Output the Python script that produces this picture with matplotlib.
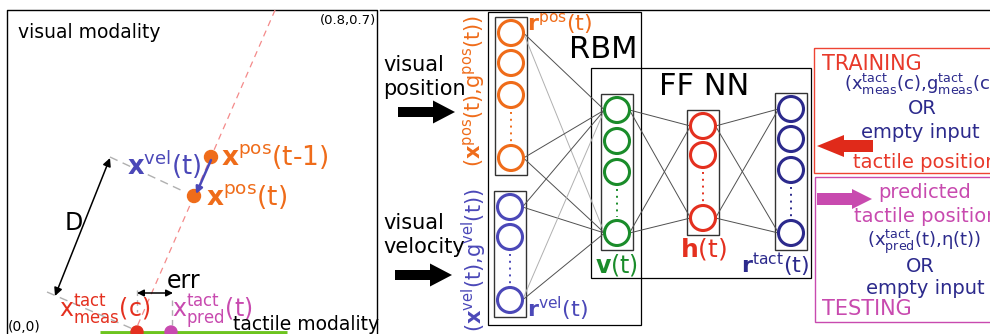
import matplotlib.pyplot as plt
from matplotlib.patches import Circle, Rectangle, FancyArrow

plt.rcParams['font.family'] = 'DejaVu Sans'
plt.rcParams['mathtext.fontset'] = 'dejavusans'
plt.rcParams['mathtext.default'] = 'regular'

ORANGE = '#ef6c1a'
VEL = '#4b48b8'
NAVY = '#2c2a8c'
GREEN = '#1a8c2a'
RED = '#e4301f'
MAGENTA = '#c84aaf'
LIME = '#6dc41f'

# drawn units of each layer (vertical centres), the rest is elided with dots
pos_units = [33, 63, 95, 158]
vel_units = [207, 237, 300]
vis_units = [110, 141, 172, 233]
hid_units = [126, 155, 218]
tact_units = [109, 139, 170, 233]

# object trajectory in the visual field
obj_prev = (211, 157)
obj_now = (194, 196)
touch_meas = (137, 332)
touch_pred = (171, 332)

fig = plt.figure(figsize=(9.9, 3.34), dpi=100)
ax = fig.add_axes([0, 0, 1, 1])
ax.set_xlim(0, 990)
ax.set_ylim(334, 0)
ax.axis('off')

# ---------------- left: visual / tactile space ----------------
ax.plot([7, 7, 377, 377], [340, 10, 10, 340], color='black', lw=1)
ax.text(18, 38, 'visual modality', fontsize=13.5, va='baseline')
ax.text(376, 24, '(0.8,0.7)', fontsize=9.5, ha='right', va='baseline')
ax.text(8, 331, '(0,0)', fontsize=10, va='baseline')

# trajectory line through the two positions down to the skin
sl = (obj_prev[0] - obj_now[0]) / (obj_prev[1] - obj_now[1])
ax.plot([obj_now[0] + sl * (10 - obj_now[1]), obj_now[0] + sl * (334 - obj_now[1])],
        [10, 334], ls=(0, (5, 4)), color='#f48a8a', lw=0.9)

ax.plot([110, 185], [157, 192], ls=(0, (6, 4)), color='#b0b0b0', lw=1)
ax.plot([47, 140], [292, 332], ls=(0, (6, 4)), color='#b0b0b0', lw=1)
ax.plot([137, 137], [290, 312], ls=(0, (4, 3)), color='#b0b0b0', lw=1)
ax.plot([172, 172], [300, 325], ls=(0, (4, 3)), color='#b0b0b0', lw=1)

ax.annotate('', xy=(55, 296), xytext=(110, 158),
            arrowprops=dict(arrowstyle='<|-|>', color='black', lw=1.1,
                            mutation_scale=12, shrinkA=0, shrinkB=0))
ax.annotate('', xy=(137, 293), xytext=(173, 293),
            arrowprops=dict(arrowstyle='<|-|>', color='black', lw=1.1,
                            mutation_scale=10, shrinkA=0, shrinkB=0))
ax.text(65, 230, 'D', fontsize=17, va='baseline')
ax.text(167, 288, 'err', fontsize=17, va='baseline')

ax.plot([100, 287], [333, 333], color=LIME, lw=3.5, solid_capstyle='butt')
ax.add_patch(Circle(obj_prev, 6.5, color=ORANGE, zorder=4))
ax.add_patch(Circle(obj_now, 6.5, color=ORANGE, zorder=4))
ax.add_patch(Circle(touch_meas, 6, color=RED, zorder=4))
ax.add_patch(Circle(touch_pred, 6, color=MAGENTA, zorder=4))
ax.annotate('', xy=(obj_now[0] + 2, obj_now[1] - 2), xytext=(obj_prev[0], obj_prev[1] + 3),
            arrowprops=dict(arrowstyle='-|>', color=VEL, lw=1.8,
                            mutation_scale=10, shrinkA=0, shrinkB=0), zorder=5)

ax.text(127, 175, r'$\mathbf{x}^{vel}$(t)', fontsize=18.5, color=VEL, va='baseline')
ax.text(221, 165, r'$\mathbf{x}^{pos}$(t-1)', fontsize=19, color=ORANGE, va='baseline')
ax.text(206, 205, r'$\mathbf{x}^{pos}$(t)', fontsize=19, color=ORANGE, va='baseline')
ax.text(59, 317, r'$x^{tact}_{meas}$(c)', fontsize=17, color=RED, va='baseline')
ax.text(172, 317, r'$x^{tact}_{pred}$(t)', fontsize=17, color=MAGENTA, va='baseline')
ax.text(233, 330, 'tactile modality', fontsize=13.5, va='baseline')

# ---------------- right: network ----------------
ax.plot([380, 990], [10, 10], color='black', lw=1)

ax.text(383, 71, 'visual', fontsize=15, va='baseline')
ax.text(383, 95, 'position', fontsize=15, va='baseline')
ax.text(383, 229, 'visual', fontsize=15, va='baseline')
ax.text(383, 253, 'velocity', fontsize=15, va='baseline')
ax.add_patch(FancyArrow(398, 112, 57, 0, width=10, head_width=23, head_length=22,
                        length_includes_head=True, color='black', lw=0))
ax.add_patch(FancyArrow(395, 275, 57, 0, width=10, head_width=23, head_length=22,
                        length_includes_head=True, color='black', lw=0))

ax.text(474, 91, r'($\mathbf{x}^{pos}$(t),g$^{pos}$(t))', fontsize=15, color=ORANGE,
        rotation=90, ha='center', va='center')
ax.text(474, 260, r'($\mathbf{x}^{vel}$(t),g$^{vel}$(t))', fontsize=15, color=VEL,
        rotation=90, ha='center', va='center')

ax.add_patch(Rectangle((488, 12), 153, 313, fill=False, ec='black', lw=0.9))
ax.add_patch(Rectangle((591, 68), 220, 210, fill=False, ec='black', lw=0.9))
ax.text(569, 58, 'RBM', fontsize=22, va='baseline')
ax.text(659, 95, 'FF NN', fontsize=22, va='baseline')

R = 12.5
layers = [(511, pos_units, ORANGE), (510, vel_units, VEL), (617, vis_units, GREEN),
          (703, hid_units, RED), (791, tact_units, NAVY)]
for cx, ys, col in layers:
    ax.add_patch(Rectangle((cx - 16, ys[0] - 16), 32, ys[-1] - ys[0] + 33,
                           fill=False, ec='#333333', lw=1))
    for y in ys:
        ax.add_patch(Circle((cx, y), R, fill=False, ec=col, lw=2.2, zorder=3))
    ax.plot([cx, cx], [ys[-2] + R + 4, ys[-1] - R - 4], ls=(0, (1, 2.5)), color=col, lw=1.4)


def connect(src, dst, light=()):
    sx, sy = src[0], src[1]
    dx, dy = dst[0], dst[1]
    for a in (sy[0], sy[-1]):
        for b in (dy[0], dy[-1]):
            faint = (a, b) in light
            ax.plot([sx + R, dx - R], [a, b], color='#b0b0b0' if faint else '#505050',
                    lw=0.7, zorder=2)


connect(layers[0], layers[2], light=[(pos_units[0], vis_units[-1])])
connect(layers[1], layers[2], light=[(vel_units[-1], vis_units[0])])
connect(layers[2], layers[3])
connect(layers[3], layers[4])

ax.text(527, 30, r'$\mathbf{r}^{pos}$(t)', fontsize=16, color=ORANGE, va='baseline')
ax.text(527, 317, r'$\mathbf{r}^{vel}$(t)', fontsize=16, color=VEL, va='baseline')
ax.text(595, 272, r'$\mathbf{v}$(t)', fontsize=17, color=GREEN, va='baseline')
ax.text(680, 257, r'$\mathbf{h}$(t)', fontsize=18, color=RED, va='baseline')
ax.text(741, 273, r'$\mathbf{r}^{tact}$(t)', fontsize=16, color=NAVY, va='baseline')

# training / testing panels
ax.add_patch(Rectangle((814, 48), 200, 125, fill=False, ec='#ee4433', lw=1))
ax.add_patch(Rectangle((815, 177), 200, 145, fill=False, ec=MAGENTA, lw=1))
ax.add_patch(FancyArrow(873, 146, -56, 0, width=12, head_width=22, head_length=27,
                        length_includes_head=True, color='#e02a1a', lw=0))
ax.add_patch(FancyArrow(817, 199, 55, 0, width=12, head_width=20, head_length=20,
                        length_includes_head=True, color=MAGENTA, lw=0))

ax.text(822, 70, 'TRAINING', fontsize=15, color='#e8392a', va='baseline')
ax.text(924, 90, r'($x^{tact}_{meas}$(c),$g^{tact}_{meas}$(c))', fontsize=13,
        color=NAVY, ha='center', va='baseline')
ax.text(922, 109, 'OR', fontsize=14, color=NAVY, ha='center', va='center')
ax.text(920, 132, 'empty input', fontsize=14, color=NAVY, ha='center', va='center')
ax.text(925, 162, 'tactile position', fontsize=14, color='#e8392a', ha='center', va='center')

ax.text(925, 193, 'predicted', fontsize=14, color=MAGENTA, ha='center', va='center')
ax.text(926, 217, 'tactile position', fontsize=14, color=MAGENTA, ha='center', va='center')
ax.text(924, 246, r'($x^{tact}_{pred}$(t),η(t))', fontsize=13, color=NAVY,
        ha='center', va='baseline')
ax.text(920, 266, 'OR', fontsize=14, color=NAVY, ha='center', va='center')
ax.text(925, 289, 'empty input', fontsize=14, color=NAVY, ha='center', va='center')
ax.text(822, 315, 'TESTING', fontsize=15, color=MAGENTA, va='baseline')

fig.savefig('out.png', dpi=100)
